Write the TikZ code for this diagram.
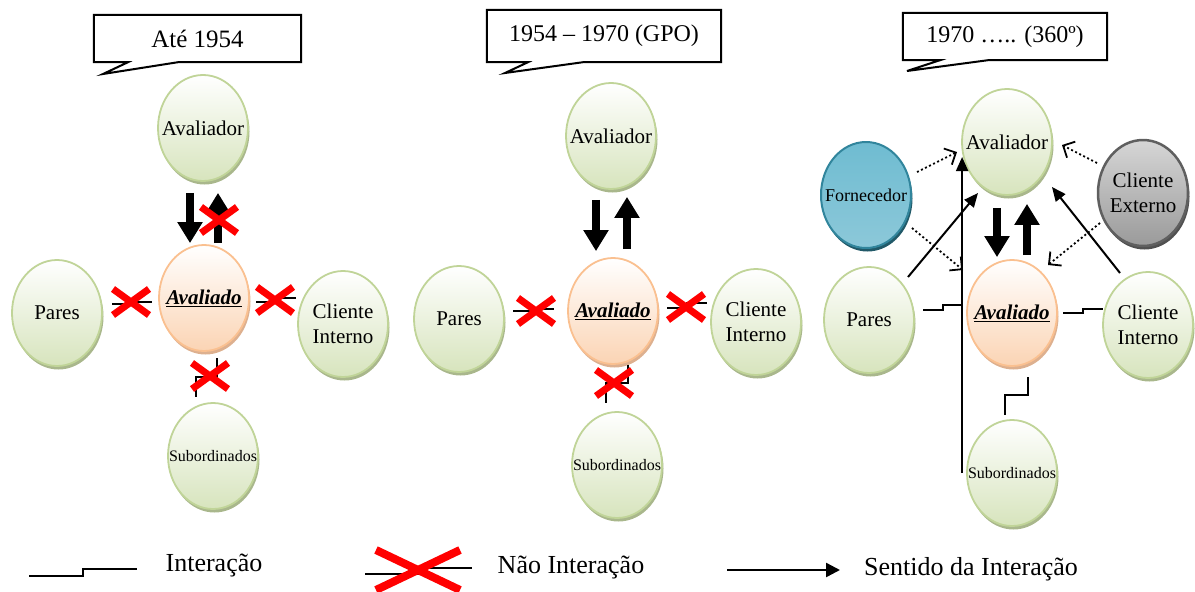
\documentclass[tikz,border=0pt]{standalone}
\usepackage{fontspec}
\setmainfont{Liberation Serif}
\usetikzlibrary{shapes.geometric,arrows.meta,calc,shadows}

\definecolor{grline}{HTML}{C0D498}
\definecolor{grfill}{HTML}{D7E4BD}
\definecolor{grshade}{HTML}{A9B78C}
\definecolor{orline}{HTML}{FAC090}
\definecolor{orfill}{HTML}{FBD4B4}
\definecolor{orshade}{HTML}{DDB08F}
\definecolor{blline}{HTML}{31859C}
\definecolor{blmid}{HTML}{46A8C3}
\definecolor{bltop}{HTML}{6FBCD1}
\definecolor{blbot}{HTML}{8CC8D9}
\definecolor{blshade}{HTML}{215968}
\definecolor{gyline}{HTML}{5F5F5F}
\definecolor{gytop}{HTML}{D6D6D6}
\definecolor{gymid}{HTML}{B5B5B5}
\definecolor{gybot}{HTML}{9A9A9A}
\definecolor{gyshade}{HTML}{505050}
\definecolor{xred}{HTML}{FF0000}

\newcommand{\mainsz}{\fontsize{21}{25}\selectfont}
\newcommand{\subsz}{\fontsize{16}{19}\selectfont}
\newcommand{\fornsz}{\fontsize{18}{22}\selectfont}
\newcommand{\titlesz}{\fontsize{24}{29}\selectfont}
\newcommand{\legsz}{\fontsize{26}{31}\selectfont}

\begin{document}
\begin{tikzpicture}[x=1pt,y=-1pt,
  orb/.style={ellipse, inner sep=0pt, minimum width=90pt, minimum height=106pt, line width=1.8pt},
  greenorb/.style={orb, draw=grline, top color=white, bottom color=grfill,
    drop shadow={shadow xshift=1.5pt, shadow yshift=-3.5pt, fill=grshade, opacity=1}},
  orangeorb/.style={orb, draw=orline, top color=white, bottom color=orfill,
    drop shadow={shadow xshift=1.5pt, shadow yshift=-3.5pt, fill=orshade, opacity=1}},
  blueorb/.style={orb, draw=blline, line width=2pt, top color=bltop, middle color=blmid, bottom color=blbot,
    drop shadow={shadow xshift=1.5pt, shadow yshift=-3.5pt, fill=blshade, opacity=1}},
  grayorb/.style={orb, draw=gyline, line width=2.5pt, top color=gytop, middle color=gymid, bottom color=gybot,
    drop shadow={shadow xshift=1.5pt, shadow yshift=-3.5pt, fill=gyshade, opacity=1}},
  txt/.style={font=\mainsz, align=center, inner sep=0pt},
  tbox/.style={rectangle, inner sep=0pt, font=\titlesz},
  tline/.style={line width=2pt, line join=miter},
  bigarrow/.style={line width=8.5pt, -{Triangle[length=21pt,width=24pt]}},
  thinarrow/.style={line width=2pt, -{Triangle[length=14pt,width=12pt]}},
  dotarrow/.style={line width=1.8pt, dash pattern=on 2pt off 2.5pt, -{Straight Barb[length=9pt,width=18pt]}},
  stepline/.style={line width=2.5pt},
  nox/.pic={\draw[xred, line width=7pt] (-18,-13) -- (18,13) (-18,13) -- (18,-13);}
]
\useasboundingbox (0,0) rectangle (1195,592);

% ---------------- Period 1: until 1954 ----------------
\node[tbox, minimum width=207pt, minimum height=47pt, font=\fontsize{25}{30}\selectfont] (t1) at (197.5,38.5) {Até 1954};
\coordinate (t1tip) at (103,74);
\draw[tline] (t1.south west) -- (t1.north west) -- (t1.north east) -- (t1.south east)
  -- ($(t1.south)+(-19.5,0)$) -- (t1tip) -- ($(t1.south)+(-69.5,0)$) -- cycle;

\node[greenorb, label={[txt]center:Avaliador}] (av1) at (203,128) {};
\node[orangeorb, label={[txt]center:\underline{\textbf{\textit{Avaliado}}}}] (ad1) at (204,298) {};
\node[greenorb, label={[txt]center:Pares}] (p1) at (57,313) {};
\node[greenorb, label={[txt]center:Cliente\\Interno}] (c1) at (343,324) {};
\node[greenorb, label={[txt,font=\subsz]center:Subordinados}] (s1) at (213,456) {};

\draw[bigarrow] ($(av1.south)+(-13,11)$) -- ($(ad1.north)+(-14,-1)$);
\draw[bigarrow] ($(ad1.north)+(14,-1)$) -- ($(av1.south)+(15,11)$);

\coordinate (p1a) at (112,304); \coordinate (p1b) at (152,302);
\draw[stepline] (p1a) -- (131,304) -- (131,302) -- (p1b);
\coordinate (c1a) at (256,302); \coordinate (c1b) at (296,298);
\draw[stepline] (c1a) -- (276,302) -- (276,298) -- (c1b);
\coordinate (s1a) at (217,358); \coordinate (s1b) at (196,397);
\draw[stepline] (s1a) -- (217,377) -- (196,377) -- (s1b);

\pic at (219,220) {nox};
\pic at (131,302) {nox};
\pic at (275,300) {nox};
\pic at (210,376) {nox};

% ---------------- Period 2: 1954 - 1970 ----------------
\node[tbox, minimum width=234pt, minimum height=52pt] (t2) at (604,36) {1954 – 1970 (GPO)};
\coordinate (t2tip) at (505,73);
\draw[tline] (t2.south west) -- (t2.north west) -- (t2.north east) -- (t2.south east)
  -- ($(t2.south)+(-21,0)$) -- (t2tip) -- ($(t2.south)+(-76,0)$) -- cycle;

\node[greenorb, label={[txt]center:Avaliador}] (av2) at (611,136) {};
\node[orangeorb, label={[txt]center:\underline{\textbf{\textit{Avaliado}}}}] (ad2) at (613,311) {};
\node[greenorb, label={[txt]center:Pares}] (p2) at (459,319) {};
\node[greenorb, label={[txt]center:Cliente\\Interno}] (c2) at (756,322) {};
\node[greenorb, label={[txt,font=\subsz]center:Subordinados}] (s2) at (617,465) {};

\draw[bigarrow] ($(av2.south)+(-15,10)$) -- ($(ad2.north)+(-17,-6)$);
\draw[bigarrow] ($(ad2.north)+(14,-8)$) -- ($(av2.south)+(16,7)$);

\coordinate (p2a) at (513,311); \coordinate (p2b) at (554,309);
\draw[stepline] (p2a) -- (534,311) -- (534,309) -- (p2b);
\coordinate (c2a) at (667,308); \coordinate (c2b) at (707,303);
\draw[stepline] (c2a) -- (687,308) -- (687,303) -- (c2b);
\coordinate (s2a) at (628,365); \coordinate (s2b) at (606,403);
\draw[stepline] (s2a) -- (628,383) -- (606,383) -- (s2b);

\pic at (536,311) {nox};
\pic at (686,307) {nox};
\pic at (614,383) {nox};

% ---------------- Period 3: 1970 onwards (360) ----------------
\node[tbox, minimum width=204pt, minimum height=47pt] (t3) at (1005,36.5) {1970 ….. (360º)};
\coordinate (t3tip) at (907,71);
\draw[tline] (t3.south west) -- (t3.north west) -- (t3.north east) -- (t3.south east)
  -- ($(t3.south)+(-17,0)$) -- (t3tip) -- ($(t3.south)+(-65,0)$) -- cycle;

\node[greenorb, label={[txt]center:Avaliador}] (av3) at (1007,142) {};
\node[blueorb, label={[txt,font=\fornsz]center:Fornecedor}] (fo3) at (866,195) {};
\node[grayorb, label={[txt]center:Cliente\\Externo}] (ce3) at (1143,193) {};
\node[orangeorb, label={[txt]center:\underline{\textbf{\textit{Avaliado}}}}] (ad3) at (1012,313) {};
\node[greenorb, label={[txt]center:Pares}] (p3) at (869,320) {};
\node[greenorb, label={[txt]center:Cliente\\Interno}] (c3) at (1148,325) {};
\node[greenorb, label={[txt,font=\subsz]center:Subordinados}] (s3) at (1012,473) {};

\draw[bigarrow] ($(av3.south)+(-10,12)$) -- ($(ad3.north)+(-15,-2)$);
\draw[bigarrow] ($(ad3.north)+(15,-4)$) -- ($(av3.south)+(20,8)$);

% direction of feedback towards the appraiser
\draw[thinarrow] ($(s3.west)+(-4,0)$) -- ($(av3.west)+(1,15)$);
\draw[thinarrow] ($(p3)+(39,-43)$) -- ($(av3)+(-29,51)$);
\draw[thinarrow] ($(c3)+(-28,-52)$) -- ($(av3)+(45,45)$);

% external parties (dotted)
\draw[dotarrow] ($(fo3)+(51,-23)$) -- ($(av3)+(-50,10)$);
\draw[dotarrow] ($(fo3)+(46,33)$) -- ($(ad3)+(-49,-43)$);
\draw[dotarrow] ($(ce3)+(-46,-30)$) -- ($(av3)+(55,3)$);
\draw[dotarrow] ($(ce3)+(-43,30)$) -- ($(ad3)+(36,-48)$);

% interaction links
\coordinate (p3a) at (923,310); \coordinate (p3b) at (963,305);
\draw[stepline] (p3a) -- (943,310) -- (943,305) -- (p3b);
\coordinate (c3a) at (1063,313); \coordinate (c3b) at (1103,309);
\draw[stepline] (c3a) -- (1083,313) -- (1083,309) -- (c3b);
\coordinate (s3a) at (1028,377); \coordinate (s3b) at (1005,415);
\draw[stepline] (s3a) -- (1028,395) -- (1005,395) -- (s3b);

% ---------------- Legend ----------------
\coordinate (l1a) at (29,576); \coordinate (l1b) at (137,569);
\draw[stepline] (l1a) -- (83,576) -- (83,569) -- (l1b);
\node[inner sep=0pt, font=\legsz] (l1t) at (214,566) {Interação};

\coordinate (l2a) at (365,574); \coordinate (l2b) at (472,568); \coordinate (l2x) at (418,570);
\draw[stepline] (l2a) -- (420,574) -- (420,568) -- (l2b);
\draw[xred, line width=8pt] ($(l2x)+(-42,-20)$) -- ($(l2x)+(42,20)$) ($(l2x)+(-42,20)$) -- ($(l2x)+(42,-20)$);
\node[inner sep=0pt, font=\legsz] (l2t) at (571,568) {Não Interação};

\coordinate (l3a) at (727,570); \coordinate (l3b) at (840,570);
\draw[line width=2.5pt, -{Triangle[length=14pt,width=14pt]}] (l3a) -- (l3b);
\node[inner sep=0pt, font=\legsz] (l3t) at (971,569) {Sentido da Interação};
\end{tikzpicture}
\end{document}
